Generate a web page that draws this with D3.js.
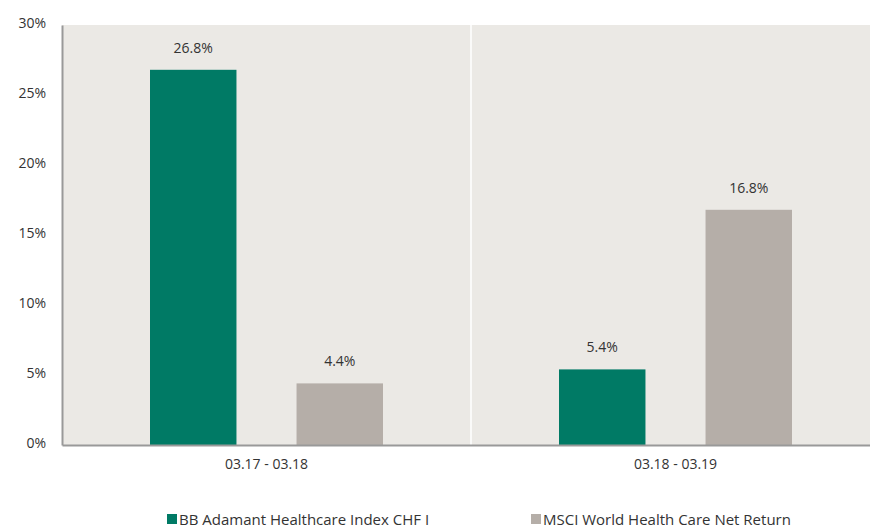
<!DOCTYPE html>
<html>
<head>
<meta charset="utf-8">
<script src="https://d3js.org/d3.v7.min.js"></script>
<style>
  body { margin: 0; background: #fff; }
  text { font-family: "Open Sans", "Noto Sans", sans-serif; fill: #333; }
</style>
</head>
<body>
<div id="chart"></div>
<script>
// data
var periods = ['03.17 - 03.18', '03.18 - 03.19'];
var seriesNames = ['BB Adamant Healthcare Index CHF I', 'MSCI World Health Care Net Return'];
var fundValues = [26.8, 5.4];
var indexValues = [4.4, 16.8];
var yTicks = [0, 5, 10, 15, 20, 25, 30];
var colors = ['#007a65', '#b5aea8'];

var W = 870, H = 527;
var M = { top: 25, right: -10, bottom: 82, left: 62 };
var width = W - M.left - M.right;
var height = H - M.top - M.bottom;

var svg = d3.select('#chart').append('svg')
    .attr('width', W)
    .attr('height', H);

var g = svg.append('g')
    .attr('transform', 'translate(' + M.left + ',' + M.top + ')');

var x0 = d3.scaleBand().domain(periods).range([0, width]);
var x1 = d3.scaleBand().domain([0, 1])
    .range([88, x0.bandwidth() - 88])
    .paddingInner(0.41);
var y = d3.scaleLinear().domain([0, 30]).range([height, 0]);

// plot background
g.append('rect')
    .attr('width', width)
    .attr('height', height)
    .attr('fill', '#ebe9e5');

// white divider between the groups
g.append('line')
    .attr('x1', x0(periods[1])).attr('x2', x0(periods[1]))
    .attr('y1', 0).attr('y2', height)
    .attr('stroke', '#fff').attr('stroke-width', 1.5);

var rows = periods.map(function(p, i) {
    return { period: p, vals: [fundValues[i], indexValues[i]] };
});

var grp = g.selectAll('.grp').data(rows).enter().append('g')
    .attr('transform', function(d) { return 'translate(' + x0(d.period) + ',0)'; });

grp.selectAll('rect').data(function(d) { return d.vals; }).enter().append('rect')
    .attr('x', function(d, i) { return x1(i); })
    .attr('width', x1.bandwidth())
    .attr('y', function(d) { return y(d); })
    .attr('height', function(d) { return height - y(d); })
    .attr('fill', function(d, i) { return colors[i]; });

grp.selectAll('.lbl').data(function(d) { return d.vals; }).enter().append('text')
    .attr('x', function(d, i) { return x1(i) + x1.bandwidth() / 2; })
    .attr('y', function(d) { return y(d) - 17; })
    .attr('text-anchor', 'middle')
    .style('font-size', '14px')
    .text(function(d) { return d.toFixed(1) + '%'; });

// y axis
var yAxis = g.append('g')
    .call(d3.axisLeft(y).tickValues(yTicks).tickSize(0).tickPadding(16)
        .tickFormat(function(d) { return d + '%'; }));
yAxis.select('.domain').attr('stroke', '#999').attr('stroke-width', 2);
yAxis.selectAll('text').style('font-size', '14px').attr('dy', '0.2em');

// x axis
var xAxis = g.append('g')
    .attr('transform', 'translate(0,' + height + ')')
    .call(d3.axisBottom(x0).tickSize(0).tickPadding(14));
xAxis.select('.domain').attr('stroke', '#999').attr('stroke-width', 2);
xAxis.selectAll('text').style('font-size', '14px');

// legend
var legX = [167, 531];
var leg = svg.selectAll('.leg').data(seriesNames).enter().append('g')
    .attr('transform', function(d, i) { return 'translate(' + legX[i] + ',514)'; });
leg.append('rect')
    .attr('width', 10).attr('height', 10)
    .attr('fill', function(d, i) { return colors[i]; });
leg.append('text')
    .attr('x', 12).attr('y', 10.5)
    .style('font-size', '15px')
    .text(function(d) { return d; });
</script>
</body>
</html>
